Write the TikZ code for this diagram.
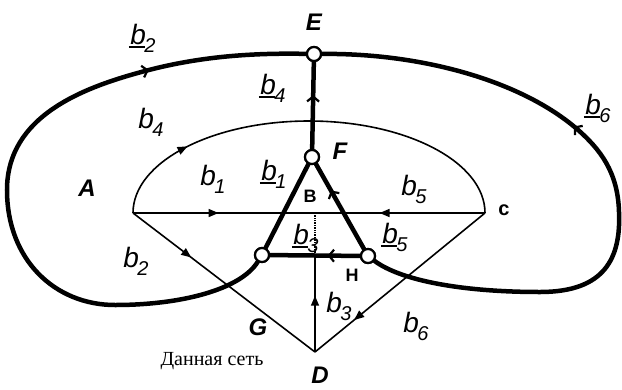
\documentclass[tikz,border=0pt]{standalone}
\usepackage{fontspec}
\setmainfont{Liberation Sans}
\newfontfamily\serfont{Liberation Serif}
\usetikzlibrary{arrows.meta,decorations.markings}
\newsavebox{\bletterbox}
\newcommand{\bsub}[1]{\raisebox{-8pt}{\fontsize{20}{20}\selectfont\itshape #1}}
\newcommand{\brn}[1]{{\fontsize{28}{28}\selectfont\itshape b}\kern-1.5pt\bsub{#1}}
\newcommand{\bru}[1]{\sbox{\bletterbox}{\fontsize{28}{28}\selectfont\itshape b}%
  \rlap{\kern-1.5pt\rule[-4pt]{\dimexpr\wd\bletterbox+1pt\relax}{1.8pt}}\usebox{\bletterbox}\kern-1.5pt\bsub{#1}}
\tikzset{
  thinline/.style={line width=1.6pt},
  thickline/.style={line width=4.5pt, line cap=round},
  vtx/.style={circle, draw, line width=2.2pt, fill=white, minimum size=14pt, inner sep=0pt},
  marrow/.style={postaction={decorate}, decoration={markings,
      mark=at position #1 with {\arrow{Triangle[length=10pt,width=8pt]}}}},
  barrow/.style={postaction={decorate}, decoration={markings,
      mark=at position #1 with {\arrow{Straight Barb[length=5pt,width=12pt,line width=2.2pt]}}}},
  lbl/.style={inner sep=0pt},
  bigl/.style={inner sep=0pt, font=\fontsize{24}{24}\selectfont\bfseries\itshape},
  smalll/.style={inner sep=0pt, font=\fontsize{18}{18}\selectfont\bfseries},
}
\begin{document}
\begin{tikzpicture}[x=1pt,y=-1pt]
\useasboundingbox (0,0) rectangle (622,389);
% points
\coordinate (A) at (133,213);
\coordinate (B) at (315,213);
\coordinate (C) at (485,213);
\coordinate (D) at (315,352);
\coordinate (X) at (315,255);
\coordinate (T) at (309,121);
% thin network
\draw[thinline, marrow=0.47] (A) -- (B);
\draw[thinline, marrow=0.62] (C) -- (B);
\draw[thinline, marrow=0.32] (A) -- (D);
\draw[thinline, marrow=0.77] (C) -- (D);
\draw[thinline, marrow=0.58] (D) -- (X);
\draw[line width=1.4pt, densely dotted] (X) -- (B);
\draw[thinline, marrow=0.42] (A) .. controls (133,162) and (212,121) .. (T);
\draw[thinline] (T) .. controls (406,121) and (485,162) .. (C);
% vertices
\node[vtx] (E) at (314,54) {};
\node[vtx] (F) at (312,157) {};
\node[vtx] (G) at (262,255) {};
\node[vtx] (H) at (368,256) {};
% thick tree
\draw[thickline, barrow=0.62] (F) -- (E);
\draw[thickline] (F) -- (G);
\draw[thickline, barrow=0.69] (H) -- (F);
\draw[thickline, barrow=0.36] (H) -- (G);
% outer left curve
\coordinate (L1) at (115,305);
\coordinate (L2) at (7,190);
\coordinate (L3) at (145,71);
\draw[thickline] (G) .. controls (240,290) and (180,305) .. (L1)
  .. controls (55,305) and (7,260) .. (L2)
  .. controls (7,115) and (85,87) .. (L3);
\draw[thickline, barrow=4pt] (L3) .. controls (205,55) and (260,53) .. (E);
% outer right curve
\coordinate (R1) at (540,292);
\coordinate (R2) at (619,212);
\coordinate (R3) at (577,129);
\draw[thickline] (H) .. controls (400,280) and (460,292) .. (R1)
  .. controls (605,292) and (621,258) .. (R2)
  .. controls (618,172) and (600,149) .. (R3);
\draw[thickline, barrow=4pt] (R3) .. controls (520,80) and (420,53) .. (E);
% redraw vertices on top
\node[vtx] at (E) {};
\node[vtx] at (F) {};
\node[vtx] at (G) {};
\node[vtx] at (H) {};
% labels
\node[bigl] (lE) at (314,22) {E};
\node[bigl] (lF) at (340,151) {F};
\node[bigl] (lA) at (87,188) {A};
\node[bigl] (lG) at (258,327) {G};
\node[bigl] (lD) at (320,375) {D};
\node[smalll] (lB) at (310,196) {B};
\node[smalll] (lH) at (352,275) {H};
\node[smalll, font=\fontsize{20}{20}\selectfont\bfseries] (lC) at (504,210) {c};
\node[lbl] (u2) at (143,38) {\bru{2}};
\node[lbl] (u4) at (273,88) {\bru{4}};
\node[lbl] (n4) at (151,122) {\brn{4}};
\node[lbl] (n1) at (213,179) {\brn{1}};
\node[lbl] (u1) at (274,174) {\bru{1}};
\node[lbl] (n5) at (414,189) {\brn{5}};
\node[lbl] (u3) at (306,238) {\bru{3}};
\node[lbl] (u5) at (395,237) {\bru{5}};
\node[lbl] (n2) at (136,261) {\brn{2}};
\node[lbl] (n3) at (339,306) {\brn{3}};
\node[lbl] (n6) at (416,326) {\brn{6}};
\node[lbl] (u6) at (598,108) {\bru{6}};
\node[lbl, font=\serfont\fontsize{20}{20}\selectfont] (cap) at (212,361) {Данная сеть};
\end{tikzpicture}
\end{document}
